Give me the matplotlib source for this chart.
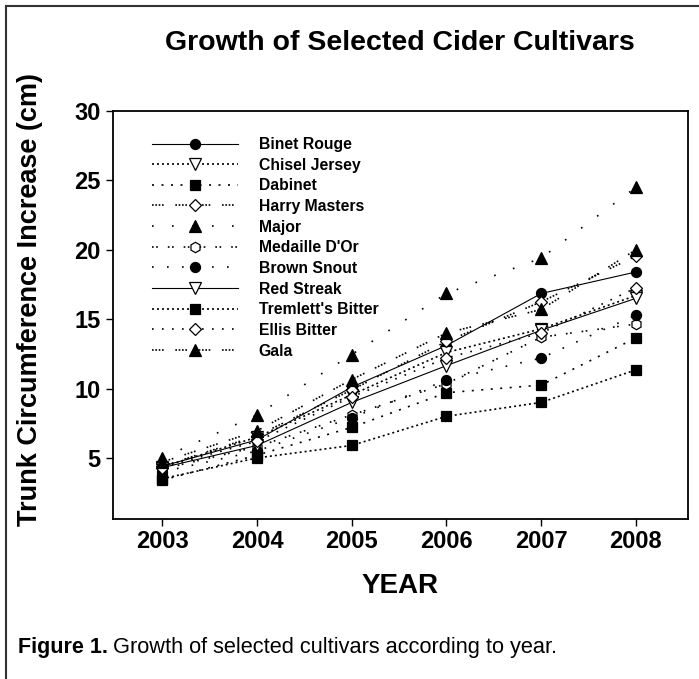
import matplotlib
matplotlib.use("Agg")
import matplotlib.pyplot as plt
from matplotlib.lines import Line2D

plt.rcParams['font.family'] = ['Liberation Sans', 'DejaVu Sans']

years = [2003, 2004, 2005, 2006, 2007, 2008]
cultivars = ['Binet Rouge', 'Chisel Jersey', 'Dabinet', 'Harry Masters', 'Major',
             "Medaille D'Or", 'Brown Snout', 'Red Streak', "Tremlett's Bitter",
             'Ellis Bitter', 'Gala']

binet_rouge = [4.4, 6.3, 10.1, 13.1, 16.85, 18.4]
chisel_jersey = [4.35, 6.5, 9.55, 12.6, 14.3, 16.7]
dabinet = [3.4, 5.2, 7.2, 9.7, 10.25, 13.65]
harry_masters = [4.4, 6.6, 9.9, 13.4, 16.25, 19.55]
major = [5.0, 8.1, 12.45, 16.85, 19.4, 24.5]
medaille_dor = [4.2, 5.8, 8.1, 10.35, 13.7, 14.65]
brown_snout = [4.0, 5.5, 7.9, 10.6, 12.2, 15.3]
red_streak = [4.3, 5.9, 9.0, 11.65, 14.2, 16.5]
tremletts_bitter = [3.5, 5.0, 5.9, 8.0, 9.0, 11.35]
ellis_bitter = [4.3, 6.2, 9.4, 12.2, 14.0, 17.25]
gala = [4.7, 6.95, 10.65, 14.0, 15.7, 20.0]

series = [binet_rouge, chisel_jersey, dabinet, harry_masters, major, medaille_dor,
          brown_snout, red_streak, tremletts_bitter, ellis_bitter, gala]

# line pattern, marker, marker face
styles = [
    ('-', 'o', 'black'),
    ((0, (1.2, 1.8)), 'v', 'white'),
    ((0, (1.2, 4.5)), 's', 'black'),
    ((0, (1, 1, 1, 1, 1, 1, 1, 7)), 'D', 'white'),
    ((0, (1, 11)), '^', 'black'),
    ((0, (1, 1.5, 1, 6)), 'h', 'white'),
    ((0, (1, 8)), 'o', 'black'),
    ('-', 'v', 'white'),
    ((0, (1.2, 1.8)), 's', 'black'),
    ((0, (1, 5)), 'D', 'white'),
    ((0, (1, 1, 1, 1, 1, 1, 1, 7)), '^', 'black'),
]
msizes = {'o': 7.2, 'v': 8, 's': 7, 'D': 6.2, '^': 8, 'h': 7.5}

fig = plt.figure(figsize=(6.99, 6.79), dpi=100)
ax = fig.add_axes([113 / 699, 1 - 519 / 679, 575 / 699, 408 / 679])

handles = []
for name, vals, (ls, mk, fc) in zip(cultivars, series, styles):
    lw = 0.8 if ls == '-' else 1.2
    ax.plot(years, vals, linestyle=ls, color='black', linewidth=lw,
            marker=mk, markersize=msizes[mk], markerfacecolor=fc,
            markeredgecolor='black', markeredgewidth=0.9)
    handles.append(Line2D([], [], linestyle=ls, color='black', linewidth=lw,
                          marker=mk, markersize=msizes[mk], markerfacecolor=fc,
                          markeredgecolor='black', markeredgewidth=0.9, label=name))

ax.set_xlim(2002.48, 2008.55)
ax.set_ylim(0.6, 30)
ax.set_xticks(years)
ax.set_yticks([5, 10, 15, 20, 25, 30])
ax.tick_params(direction='out', length=5, width=1, labelsize=17, pad=4)
for lab in ax.get_xticklabels() + ax.get_yticklabels():
    lab.set_fontweight('bold')
ax.tick_params(axis='x', pad=3)
for sp in ax.spines.values():
    sp.set_linewidth(1.3)

ax.set_xlabel('YEAR', fontsize=20, fontweight='bold', labelpad=14)
ax.set_ylabel('Trunk Circumference Increase (cm)', fontsize=19.5, fontweight='bold')
ax.yaxis.set_label_coords((30 - 113) / 575, (519 - 300) / 408, transform=ax.transAxes)
ax.yaxis.label.set_verticalalignment('center')

leg = ax.legend(handles=handles, loc='upper left', frameon=False,
                prop={'weight': 'bold', 'size': 11.3}, numpoints=1,
                handlelength=5.5, handletextpad=1.3, labelspacing=0.36,
                borderpad=0, borderaxespad=0,
                bbox_to_anchor=(152 / 699, 1 - 137 / 679), bbox_transform=fig.transFigure)

fig.text(400 / 699, 1 - 43 / 679, 'Growth of Selected Cider Cultivars', fontsize=20.5,
         fontweight='bold', ha='center', va='center')

# caption with a bold lead
cap = fig.text(18 / 699, 1 - 647 / 679, 'Figure 1.', fontsize=15.5, fontweight='bold',
               ha='left', va='center')
fig.canvas.draw()
bb = cap.get_window_extent()
fig.text((bb.x1 + 5) / 699, 1 - 647 / 679, 'Growth of selected cultivars according to year.',
         fontsize=15.7, ha='left', va='center')

# frame lines along the top and left of the panel
fig.add_artist(Line2D([6 / 699, 6 / 699], [0, 1 - 6 / 679], transform=fig.transFigure,
                      color='#333333', linewidth=1.5))
fig.add_artist(Line2D([6 / 699, 1], [1 - 6 / 679, 1 - 6 / 679], transform=fig.transFigure,
                      color='#333333', linewidth=1.5))

fig.savefig('out.png', dpi=100, facecolor='white')
